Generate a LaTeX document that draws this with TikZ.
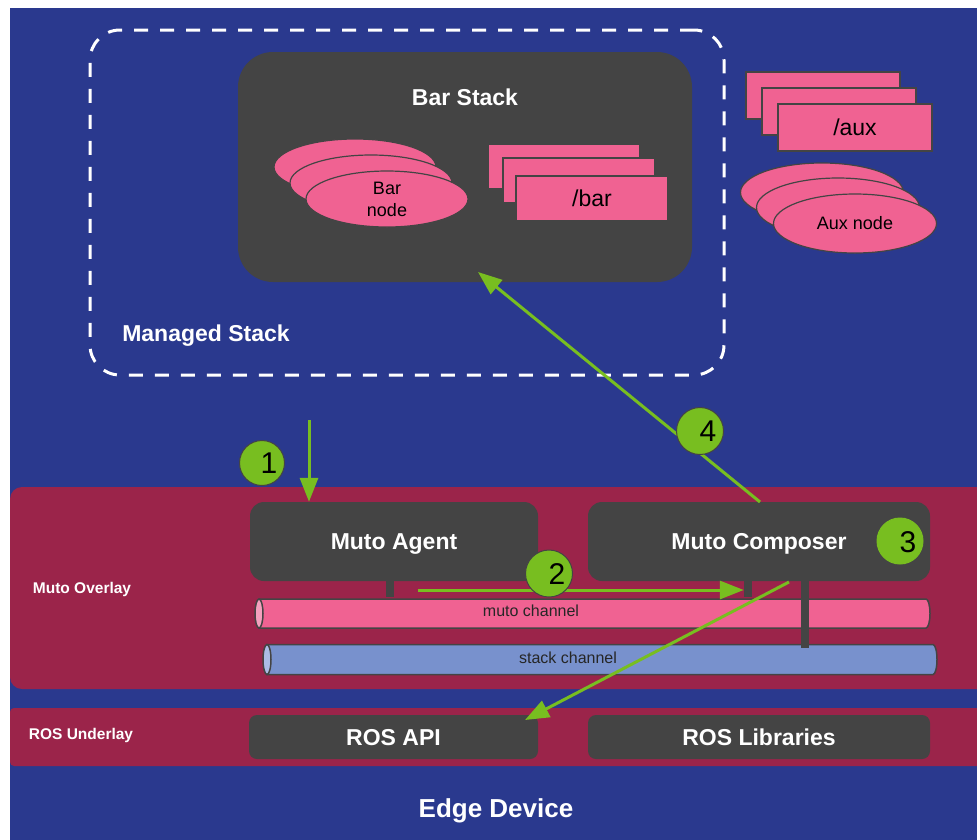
\documentclass[tikz,border=0pt]{standalone}
\usepackage{fontspec}
\setmainfont{Liberation Sans}
\usetikzlibrary{arrows.meta,calc,shapes.geometric}
\definecolor{bgblue}{RGB}{42,57,142}
\definecolor{dkgray}{RGB}{68,68,68}
\definecolor{pinkc}{RGB}{240,98,146}
\definecolor{pinkend}{RGB}{244,160,190}
\definecolor{chblue}{RGB}{120,145,205}
\definecolor{chblueend}{RGB}{172,188,230}
\definecolor{crimson}{RGB}{155,36,74}
\definecolor{greenc}{RGB}{120,190,32}
\begin{document}
\begin{tikzpicture}[x=1pt,y=1pt,
  darkbox/.style={fill=dkgray, rounded corners=14pt, inner sep=0pt, text=white,
    text height=16.5pt, text depth=0pt,
    font=\fontsize{23}{26}\selectfont\bfseries},
  pinkell/.style={ellipse, draw=dkgray, line width=1.2pt, fill=pinkc, inner sep=0pt,
    font=\fontsize{18}{22}\selectfont, align=center},
  pinkrect/.style={rectangle, draw=dkgray, line width=1.2pt, fill=pinkc, inner sep=0pt,
    font=\fontsize{23}{26}\selectfont},
  whitelab/.style={text=white, inner sep=0pt, text height=16.5pt, text depth=0pt,
    font=\fontsize{23}{26}\selectfont\bfseries},
  smalllab/.style={text=white, inner sep=0pt, font=\fontsize{15.5}{18}\selectfont\bfseries},
  chlab/.style={text=black!85, inner sep=0pt, font=\fontsize{16}{18}\selectfont},
  stub/.style={fill=dkgray, inner sep=0pt, minimum width=8pt},
  numc/.style={circle, fill=greenc, draw=dkgray, line width=1pt, minimum size=47pt, inner sep=0pt},
  numt/.style={font=\fontsize{30}{30}\selectfont, text=black, inner sep=0pt},
  garrow/.style={draw=greenc, line width=3pt, -{Triangle[length=24pt,width=18pt]}}
]
\useasboundingbox (0,0) rectangle (977,-839);
\clip (0,0) rectangle (977,-839);
\fill[white] (0,0) rectangle (977,-839);
\fill[bgblue] (10,-8) rectangle (990,-850);

% Managed stack container
\node[draw=white, line width=3pt, dash pattern=on 14pt off 12pt, rounded corners=30pt,
      minimum width=634pt, minimum height=345pt, inner sep=0pt] (managed) at (407,-202.5) {};
\node[whitelab] (managedlab) at (206,-333) {Managed Stack};

% Bar stack
\node[darkbox, rounded corners=35pt, minimum width=454pt, minimum height=230pt] (barstack) at (465,-167) {};
\node[whitelab] (barstacklab) at (465,-97) {Bar Stack};

\node[pinkell, minimum width=162pt, minimum height=56pt] (barn3) at (355,-167) {};
\node[pinkell, minimum width=162pt, minimum height=56pt] (barn2) at (371,-183) {};
\node[pinkell, minimum width=162pt, minimum height=56pt] (barn1) at (387,-199) {Bar\\node};

\node[pinkrect, minimum width=152pt, minimum height=45pt] (bart3) at (564,-166.5) {};
\node[pinkrect, minimum width=152pt, minimum height=45pt] (bart2) at (579,-180.5) {};
\node[pinkrect, minimum width=152pt, minimum height=45pt] (bart1) at (592,-198.5) {/bar};

% Aux
\node[pinkrect, minimum width=154pt, minimum height=47pt] (auxt3) at (823,-95.5) {};
\node[pinkrect, minimum width=154pt, minimum height=47pt] (auxt2) at (839,-111.5) {};
\node[pinkrect, minimum width=154pt, minimum height=47pt] (auxt1) at (855,-127.5) {/aux};

\node[pinkell, minimum width=163pt, minimum height=59pt] (auxn3) at (822,-192.5) {};
\node[pinkell, minimum width=163pt, minimum height=59pt] (auxn2) at (838,-207.5) {};
\node[pinkell, minimum width=163pt, minimum height=59pt] (auxn1) at (855,-223.5) {Aux node};

% Muto overlay
\fill[crimson, rounded corners=12pt] (10,-487) rectangle (995,-689);
\node[smalllab] (overlaylab) at (82,-589) {Muto Overlay};

\node[darkbox, minimum width=288pt, minimum height=79pt] (agent) at (394,-541.5) {Muto Agent};
\node[darkbox, minimum width=342pt, minimum height=79pt] (composer) at (759,-541.5) {Muto Composer};

% channels
\filldraw[fill=pinkc, draw=dkgray, line width=1.5pt] (259,-599) -- (926,-599)
  arc[start angle=90, end angle=-90, x radius=4, y radius=14.5] -- (259,-628) -- cycle;
\filldraw[fill=pinkend, draw=dkgray, line width=1.5pt] (259,-613.5) ellipse [x radius=4, y radius=14.5];
\node[chlab] (mutoch) at (531,-611) {muto channel};

\filldraw[fill=chblue, draw=dkgray, line width=1.5pt] (267,-644.5) -- (933,-644.5)
  arc[start angle=90, end angle=-90, x radius=4, y radius=15] -- (267,-674.5) -- cycle;
\filldraw[fill=chblueend, draw=dkgray, line width=1.5pt] (267,-659.5) ellipse [x radius=4, y radius=15];
\node[chlab] (stackch) at (568,-658) {stack channel};

% stubs
\node[stub, minimum height=16pt] (stub1) at (390,-589) {};
\node[stub, minimum height=16pt] (stub2) at (748,-589) {};
\node[stub, minimum height=67pt] (stub3) at (805,-614.5) {};

% ROS underlay
\fill[crimson, rounded corners=4pt] (10,-708) rectangle (995,-766);
\node[smalllab] (underlaylab) at (81,-735) {ROS Underlay};
\node[darkbox, rounded corners=8pt, minimum width=289pt, minimum height=44pt] (rosapi) at (393.5,-737) {ROS API};
\node[darkbox, rounded corners=8pt, minimum width=342pt, minimum height=44pt] (roslib) at (759,-737) {ROS Libraries};

\node[whitelab, text height=18.6pt, font=\fontsize{26}{28}\selectfont\bfseries] (edge) at (496,-808) {Edge Device};

% arrows
\coordinate (a1s) at (309,-420);
\draw[garrow] (a1s) -- (a1s |- agent.north);

\coordinate (a2s) at (418,-590);
\draw[garrow] (a2s) -- (a2s -| stub2.west);

\coordinate (a3s) at (789,-582);
\coordinate (a3e) at (525,-720);
\draw[garrow] (a3s) -- (a3e);

\coordinate (a4s) at (760,-502);
\coordinate (a4e) at (478,-272);
\draw[garrow] (a4s) -- (a4e);

% number circles
\node[numc, minimum size=45pt] (c1) at (262,-463) {};
\node[numt] (n1) at (269,-463) {1};
\node[numc] (c2) at (549,-573.5) {};
\node[numt] (n2) at (557,-574) {2};
\node[numc, minimum size=46pt, draw=greenc] (c3) at (900,-541) {};
\node[numt] (n3) at (908,-542) {3};
\node[numc] (c4) at (700,-431) {};
\node[numt] (n4) at (708,-431) {4};
\end{tikzpicture}
\end{document}
